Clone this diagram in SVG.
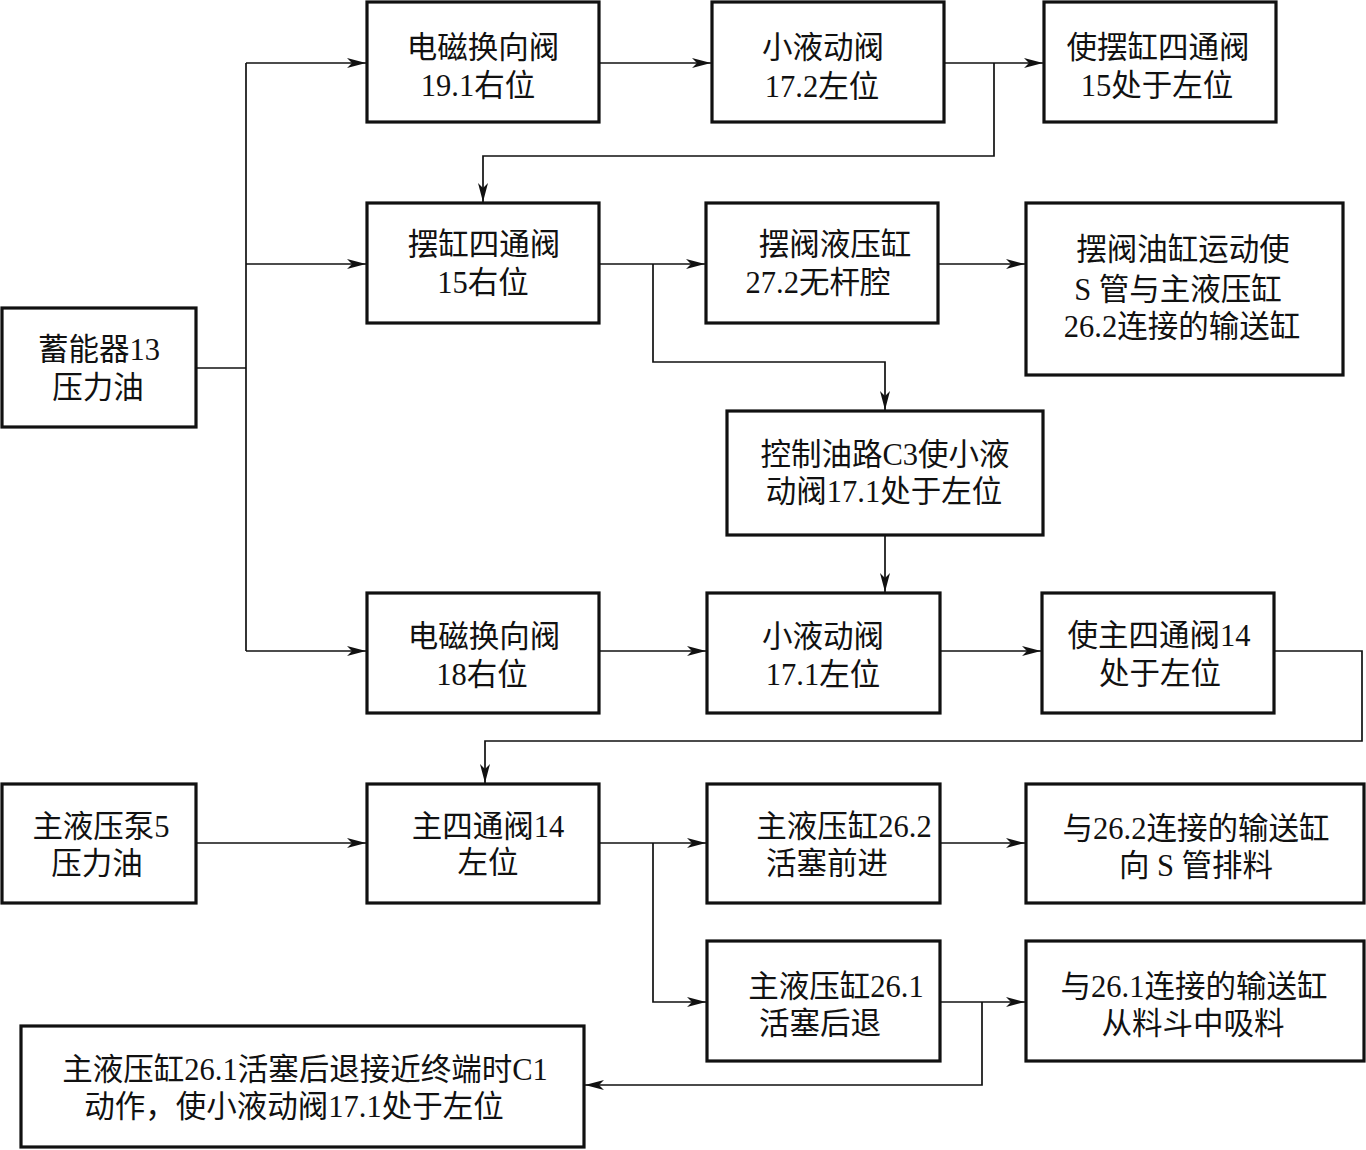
<svg xmlns="http://www.w3.org/2000/svg" width="1366" height="1150" viewBox="0 0 1366 1150">
<style>
.box{fill:#fff;stroke:#111;stroke-width:3.2}
.ln{fill:none;stroke:#111;stroke-width:1.7}
.arr{marker-end:url(#ah)}
text{font-family:"Liberation Serif","Noto Sans CJK SC",serif;font-size:30.5px;fill:#111;text-anchor:middle;dominant-baseline:central}
</style>
<defs>
<marker id="ah" markerUnits="userSpaceOnUse" markerWidth="22" markerHeight="12" refX="19" refY="5" orient="auto">
<path d="M0,0 L19,5 L0,10 L5,5 z" fill="#111"/>
</marker>
</defs>
<rect width="1366" height="1150" fill="#fff"/>
<g id="connectors">
<polyline class="ln" points="196,368 246,368"/>
<polyline class="ln" points="246,63 246,651"/>
<polyline class="ln arr" points="246,63 366,63"/>
<polyline class="ln arr" points="246,264 366,264"/>
<polyline class="ln arr" points="246,651 366,651"/>
<polyline class="ln arr" points="599,63 711,63"/>
<polyline class="ln arr" points="944,63 1043,63"/>
<polyline class="ln arr" points="994,63 994,156 483,156 483,202"/>
<polyline class="ln arr" points="599,264 705,264"/>
<polyline class="ln arr" points="653,264 653,362 885,362 885,410"/>
<polyline class="ln arr" points="938,264 1025,264"/>
<polyline class="ln arr" points="885,535 885,592"/>
<polyline class="ln arr" points="599,651 706,651"/>
<polyline class="ln arr" points="940,651 1041,651"/>
<polyline class="ln arr" points="1274,651 1362,651 1362,741 485,741 485,783"/>
<polyline class="ln arr" points="196,843 366,843"/>
<polyline class="ln arr" points="599,843 706,843"/>
<polyline class="ln arr" points="653,843 653,1002 706,1002"/>
<polyline class="ln arr" points="940,843 1025,843"/>
<polyline class="ln arr" points="940,1002 1025,1002"/>
<polyline class="ln arr" points="982,1002 982,1085 585,1085"/>
</g>
<g id="n1"><rect class="box" x="2" y="308" width="194" height="119"/><text x="99" y="350">蓄能器13</text><text x="98" y="388">压力油</text></g>
<g id="n2"><rect class="box" x="367" y="2" width="232" height="120"/><text x="483" y="48">电磁换向阀</text><text x="478" y="86">19.1右位</text></g>
<g id="n3"><rect class="box" x="712" y="2" width="232" height="120"/><text x="823" y="48">小液动阀</text><text x="822" y="87">17.2左位</text></g>
<g id="n4"><rect class="box" x="1044" y="2" width="232" height="120"/><text x="1158" y="48">使摆缸四通阀</text><text x="1157" y="86">15处于左位</text></g>
<g id="n5"><rect class="box" x="367" y="203" width="232" height="120"/><text x="484" y="245">摆缸四通阀</text><text x="483" y="283">15右位</text></g>
<g id="n6"><rect class="box" x="706" y="203" width="232" height="120"/><text x="835" y="245">摆阀液压缸</text><text x="818" y="283">27.2无杆腔</text></g>
<g id="n7"><rect class="box" x="1026" y="203" width="317" height="172"/><text x="1183" y="250">摆阀油缸运动使</text><text x="1178" y="290">S 管与主液压缸</text><text x="1182" y="327">26.2连接的输送缸</text></g>
<g id="n8"><rect class="box" x="727" y="411" width="316" height="124"/><text x="885" y="455">控制油路C3使小液</text><text x="884" y="492">动阀17.1处于左位</text></g>
<g id="n9"><rect class="box" x="367" y="593" width="232" height="120"/><text x="484" y="637">电磁换向阀</text><text x="482" y="675">18右位</text></g>
<g id="n10"><rect class="box" x="707" y="593" width="233" height="120"/><text x="823" y="637">小液动阀</text><text x="823" y="675">17.1左位</text></g>
<g id="n11"><rect class="box" x="1042" y="593" width="232" height="120"/><text x="1159" y="636">使主四通阀14</text><text x="1160" y="674">处于左位</text></g>
<g id="n12"><rect class="box" x="2" y="784" width="194" height="119"/><text x="101" y="827">主液压泵5</text><text x="97" y="864">压力油</text></g>
<g id="n13"><rect class="box" x="367" y="784" width="232" height="119"/><text x="488" y="827">主四通阀14</text><text x="488" y="863">左位</text></g>
<g id="n14"><rect class="box" x="707" y="784" width="233" height="119"/><text x="844" y="827">主液压缸26.2</text><text x="827" y="864">活塞前进</text></g>
<g id="n15"><rect class="box" x="1026" y="784" width="338" height="119"/><text x="1196" y="829">与26.2连接的输送缸</text><text x="1196" y="866">向 S 管排料</text></g>
<g id="n16"><rect class="box" x="707" y="941" width="233" height="120"/><text x="836" y="987">主液压缸26.1</text><text x="820" y="1024">活塞后退</text></g>
<g id="n17"><rect class="box" x="1026" y="941" width="338" height="120"/><text x="1194" y="987">与26.1连接的输送缸</text><text x="1193" y="1024">从料斗中吸料</text></g>
<g id="n18"><rect class="box" x="21" y="1026" width="563" height="121"/><text x="305" y="1070">主液压缸26.1活塞后退接近终端时C1</text><text x="294" y="1107">动作，使小液动阀17.1处于左位</text></g>
</svg>
